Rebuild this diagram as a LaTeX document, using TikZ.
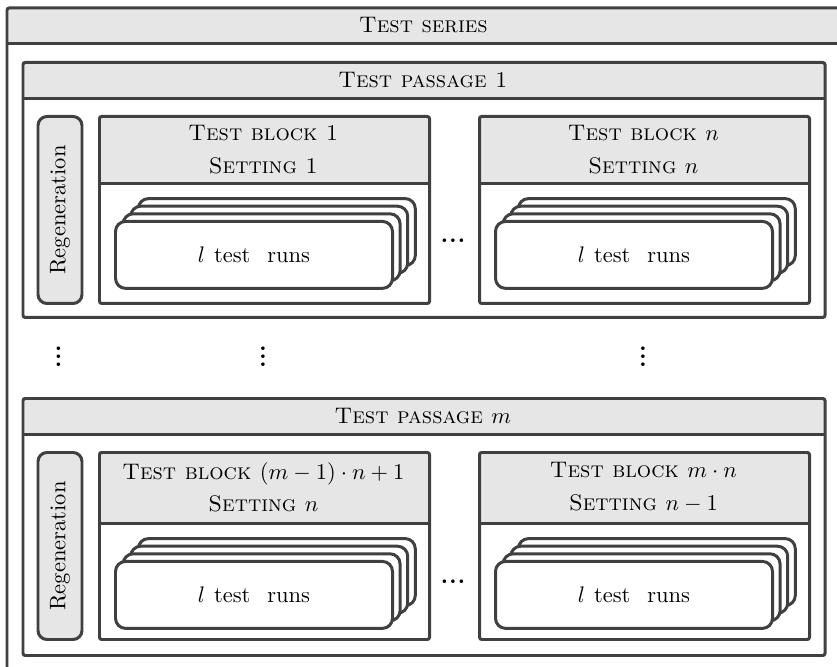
\documentclass[tikz,border=0pt]{standalone}
\usetikzlibrary{positioning,calc}
\definecolor{linegray}{RGB}{64,64,64}
\definecolor{headgray}{RGB}{230,230,230}
\def\px{0.444pt}
\newcommand{\hdotsbold}{.\kern0.35pt.\kern0.35pt.}
\newcommand{\vdotsbold}{\vbox{\baselineskip=3.6pt\lineskiplimit=-\maxdimen
  \hbox{.}\hbox{.}\hbox{.}}}
\tikzset{
  frame/.style   = {draw=linegray, line width=1.33pt, rounded corners=1pt,
                    inner sep=0pt, anchor=north west},
  headbar/.style = {fill=headgray, inner sep=0pt, anchor=north west,
                    align=center, font=\scshape},
  rule/.style    = {draw=linegray, line width=1.33pt},
  regen/.style   = {draw=linegray, fill=headgray, line width=1.33pt,
                    rounded corners=4pt, inner sep=0pt, anchor=north west,
                    minimum width=44*\px, minimum height=187*\px},
  card/.style    = {draw=linegray, fill=white, line width=1.33pt,
                    rounded corners=4.5pt, inner sep=0pt, anchor=north west,
                    minimum width=277*\px, minimum height=67*\px},
  dotsnode/.style = {inner sep=0pt, font=\bfseries\fontsize{11}{13}\selectfont}
}

\begin{document}
\begin{tikzpicture}[x=0.444pt,y=-0.444pt]
\useasboundingbox (0,0) rectangle (837,667);
\clip (0,0) rectangle (837,667);

% test series
\node[headbar, minimum width=835*\px, minimum height=36*\px] (seriesh) at (5.5,6.5)
  {Test series};
\draw[rule] (seriesh.south west) -- (seriesh.south east);
\node[frame, minimum width=835*\px, minimum height=720*\px] (series) at (5.5,6.5) {};

% test passages
\foreach \name/\ty/\h/\txt in {pOne/61/255/{Test passage 1}, pM/397/257/{Test passage $m$}}{
  \node[headbar, minimum width=802*\px, minimum height=37*\px] (\name h) at (21.5,\ty) {\txt};
  \draw[rule] (\name h.south west) -- (\name h.south east);
  \node[frame, minimum width=802*\px, minimum height=\h*\px] (\name) at (21.5,\ty) {};
}

% regeneration
\foreach \name/\ty in {rOne/115, rM/451}{
  \node[regen] (\name) at (36.5,\ty) {};
  \node[rotate=90] (\name t) at (\name.center) {Regeneration};
}

% test blocks
\foreach \name/\bx/\ty/\hh/\txt in {
    bOne/98/115/68/{Test block 1\\[2.5pt] Setting 1},
    bN/478/115/68/{Test block $n$\\[2.5pt] Setting $n$},
    bMOne/98/451/72/{Test block $(m-1)\cdot n+1$\\[2.5pt] Setting $n$},
    bMN/478/451/72/{Test block $m\cdot n$\\[2.5pt] Setting $n-1$}}{
  \node[headbar, minimum width=330*\px, minimum height=\hh*\px] (\name h) at (\bx,\ty) {\txt};
  \draw[rule] (\name h.south west) -- (\name h.south east);
  \node[frame, minimum width=330*\px, minimum height=187*\px] (\name) at (\bx,\ty) {};
  % stack of test runs
  \foreach \k in {3,2,1}{
    \node[card] (\name c\k) at ($(\name h.south west)+(16+7.6*\k,36-7.6*\k)$) {};
  }
  \node[card] (\name c0) at ($(\name h.south west)+(16,36)$)
    {$l$\hspace{4pt}test\hspace{7.5pt}runs};
}

% dots between blocks
\node[dotsnode] (hdotsOne) at (453,241) {\hdotsbold};
\node[dotsnode] (hdotsM) at (453,582) {\hdotsbold};
\foreach \x/\name in {58.5/vOne, 263/vTwo, 643/vThree}{
  \node[dotsnode] (\name) at (\x,357) {\vdotsbold};
}

\end{tikzpicture}
\end{document}
